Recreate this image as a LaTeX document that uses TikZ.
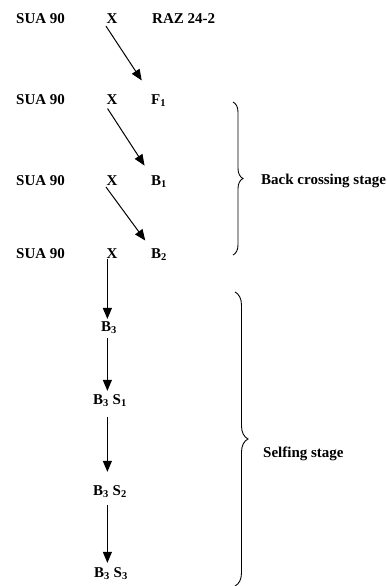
\documentclass[tikz,border=0pt]{standalone}
\usepackage{fontspec}
\setmainfont{Liberation Serif}
\usetikzlibrary{arrows.meta, decorations.pathreplacing}

\begin{document}
\begin{tikzpicture}[
    x=1pt, y=-1pt,
    lbl/.style={inner sep=1pt, font=\fontsize{15}{18}\selectfont\bfseries},
    arrow/.style={-{Triangle[length=11pt,width=9pt]}, line width=1pt},
    stagebrace/.style={decorate, decoration={brace, amplitude=#1}, line width=0.9pt}
  ]
    \useasboundingbox (0,0) rectangle (387,586);
    % crossing rows
    \node[lbl, anchor=base west] (sua1) at (15,24) {SUA 90};
    \node[lbl, anchor=base] (x1) at (112,24) {X};
    \node[lbl, anchor=base west] (raz) at (151,24) {RAZ 24-2};
    \node[lbl, anchor=base west] (sua2) at (15,104) {SUA 90};
    \node[lbl, anchor=base] (x2) at (112,104) {X};
    \node[lbl, anchor=base west] (f1) at (150,104) {F\textsubscript{1}};
    \node[lbl, anchor=base west] (sua3) at (15,185) {SUA 90};
    \node[lbl, anchor=base] (x3) at (112,185) {X};
    \node[lbl, anchor=base west] (b1) at (150,185) {B\textsubscript{1}};
    \node[lbl, anchor=base west] (sua4) at (15,258) {SUA 90};
    \node[lbl, anchor=base] (x4) at (112,258) {X};
    \node[lbl, anchor=base west] (b2) at (150,258) {B\textsubscript{2}};
    % selfing column
    \node[lbl, anchor=base] (b3) at (109,331) {B\textsubscript{3}};
    \node[lbl, anchor=base] (b3s1) at (110,404) {B\textsubscript{3} S\textsubscript{1}};
    \node[lbl, anchor=base] (b3s2) at (110,495) {B\textsubscript{3} S\textsubscript{2}};
    \node[lbl, anchor=base] (b3s3) at (111,577) {B\textsubscript{3} S\textsubscript{3}};
    \draw[arrow, shorten >=15pt, shorten <=1pt] (x1.south west) -- (f1.north west);
    \draw[arrow, shorten >=10pt, shorten <=4pt] (x2.south west) -- (b1.north west);
    \draw[arrow, shorten >=8pt, shorten <=1pt] (x3.south west) -- (b2.north west);
    \path (b3.north -| x4.south west) ++(2pt,0) coordinate (v0);
    \draw[arrow, shorten >=1pt] (x4.south west -| v0) -- (v0);
    \draw[arrow, shorten <=4pt, shorten >=2pt] (b3.south -| v0) -- (b3s1.north -| v0);
    \draw[arrow, shorten <=10pt, shorten >=12pt] (b3s1.south -| v0) -- (b3s2.north -| v0);
    \draw[arrow, shorten <=7pt, shorten >=3pt] (b3s2.south -| v0) -- (b3s3.north -| v0);
    % stages
    \draw[stagebrace=10pt] (233,102) -- (233,255);
    \node[lbl, anchor=base west] (back) at (260,184) {Back crossing stage};
    \draw[stagebrace=13pt] (235,292) -- (235,586);
    \node[lbl, anchor=base west] (self) at (262,457) {Selfing stage};
\end{tikzpicture}
\end{document}
